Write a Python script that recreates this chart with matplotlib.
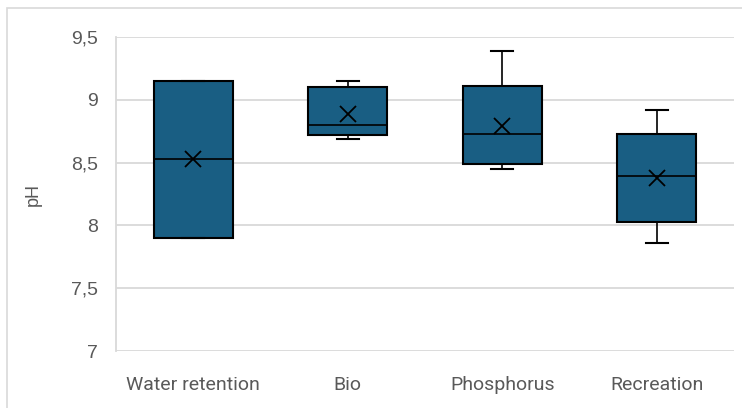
import matplotlib
matplotlib.use("Agg")
import matplotlib.pyplot as plt
from matplotlib.patches import Rectangle

# values (pH)
categories = ["Water retention", "Bio", "Phosphorus", "Recreation"]
whisker_low = [7.90, 8.69, 8.45, 7.86]
q1 = [7.90, 8.72, 8.49, 8.03]
median = [8.53, 8.80, 8.73, 8.39]
q3 = [9.15, 9.10, 9.11, 8.73]
whisker_high = [9.15, 9.15, 9.39, 8.92]
mean = [8.53, 8.89, 8.79, 8.38]

yticks = [7, 7.5, 8, 8.5, 9, 9.5]
ytick_labels = ["7", "7,5", "8", "8,5", "9", "9,5"]

box_color = "#195E83"
grid_color = "#d9d9d9"
text_color = "#595959"

fig = plt.figure(figsize=(7.42, 4.08), dpi=100)
ax = fig.add_axes([116 / 742, 1 - 351 / 408, 618 / 742, 314 / 408])

# outer chart border (top and left visible in the crop)
fig.patches.append(Rectangle((7 / 742, -0.1), 1.1, 1.1 - 8 / 408, transform=fig.transFigure,
                             fill=False, edgecolor=grid_color, linewidth=1.2))

stats = []
for i, name in enumerate(categories):
    stats.append(dict(label=name, whislo=whisker_low[i], q1=q1[i], med=median[i],
                      q3=q3[i], whishi=whisker_high[i], mean=mean[i], fliers=[]))

ax.bxp(stats, positions=range(len(categories)), widths=0.51, capwidths=0.14,
       patch_artist=True, showmeans=True,
       boxprops=dict(facecolor=box_color, edgecolor="black", linewidth=1.5),
       medianprops=dict(color="black", linewidth=1.2),
       whiskerprops=dict(color="black", linewidth=1.2),
       capprops=dict(color="black", linewidth=1.5),
       meanprops=dict(marker="x", markeredgecolor="black", markersize=11, markeredgewidth=1.3))

ax.set_xlim(-0.5, len(categories) - 0.5)
ax.set_ylim(7, 9.5)
ax.set_yticks(yticks)
ax.set_yticklabels(ytick_labels, fontsize=14, color=text_color, family=["Liberation Sans", "DejaVu Sans"])
ax.set_xticks(range(len(categories)))
ax.set_xticklabels(categories, fontsize=14, color=text_color, family=["Roboto", "DejaVu Sans"])
ax.tick_params(axis="y", length=0, pad=13)
ax.tick_params(axis="x", length=0, pad=18)
ax.set_ylabel("pH", fontsize=13, color=text_color, labelpad=21, family=["Liberation Sans", "DejaVu Sans"])

ax.grid(axis="y", color=grid_color, linewidth=1.3)
ax.set_axisbelow(True)
for side in ["top", "right", "bottom"]:
    ax.spines[side].set_visible(False)
ax.spines["left"].set_color(grid_color)
ax.spines["left"].set_linewidth(1.3)

fig.savefig("out.png", dpi=100)
